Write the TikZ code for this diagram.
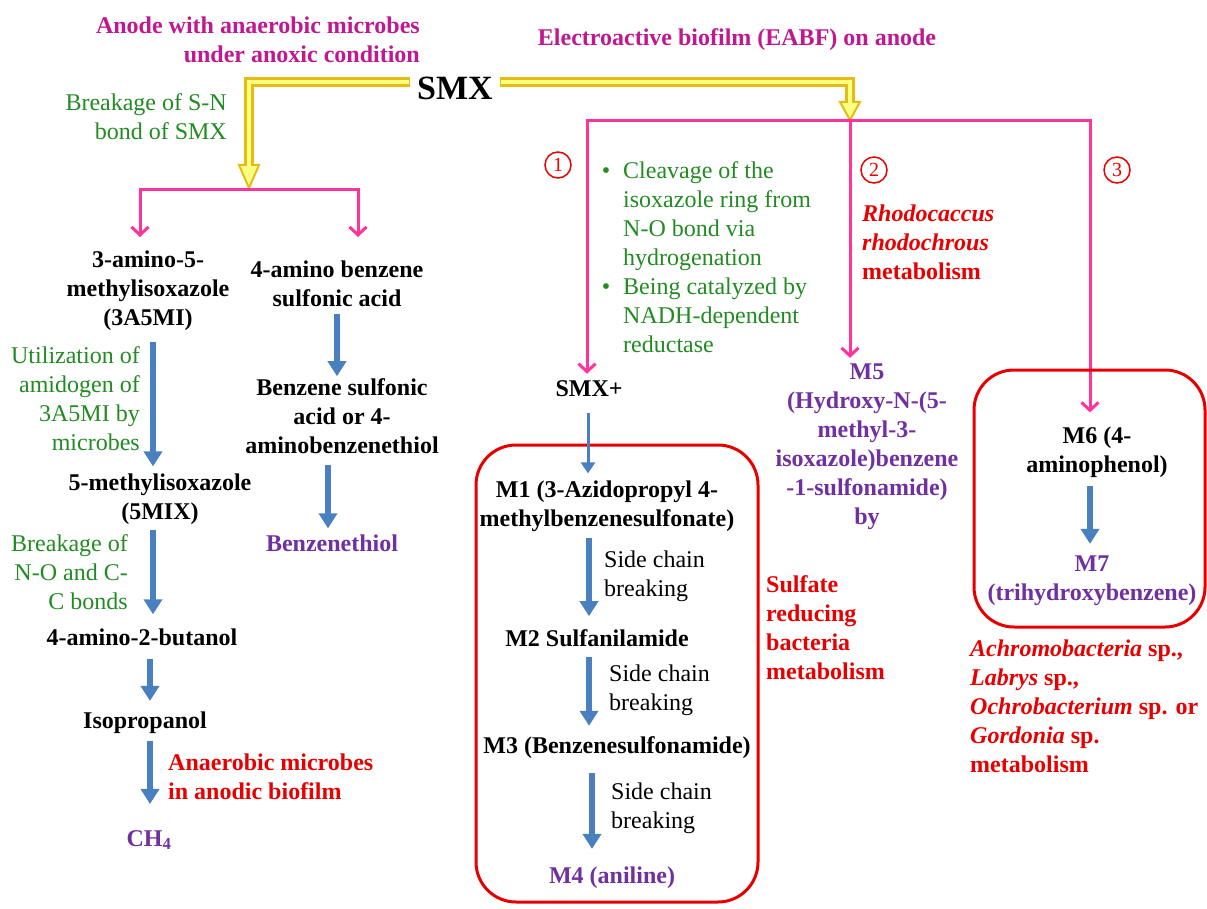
\documentclass[tikz,border=0pt]{standalone}
\usepackage{fontspec}
\setmainfont{Liberation Serif}
\usetikzlibrary{arrows.meta}
\definecolor{mag}{RGB}{192,24,144}
\definecolor{pk}{RGB}{255,51,153}
\definecolor{gold}{RGB}{228,188,20}
\definecolor{lyel}{RGB}{255,255,130}
\definecolor{grn}{RGB}{34,139,34}
\definecolor{rd}{RGB}{232,0,0}
\definecolor{pur}{RGB}{112,48,160}
\definecolor{blu}{RGB}{74,128,192}
\newcommand{\fsz}{\fontsize{24}{29}\selectfont}
\begin{document}
\begin{tikzpicture}[x=1pt,y=-1pt,
  every node/.style={inner sep=0pt, align=center, font=\fsz},
  bk/.style={font=\fsz\bfseries},
  gr/.style={text=grn, font=\fsz},
  rdb/.style={text=rd, font=\fsz\bfseries},
  pu/.style={text=pur, font=\fsz\bfseries},
  pka/.style={draw=pk, line width=3pt, -{Straight Barb[length=8pt,width=17pt,line width=3pt]}},
  pkl/.style={draw=pk, line width=3pt},
  ba/.style={draw=blu, line width=6pt, -{Triangle[length=15pt,width=18pt]}},
  bthin/.style={draw=blu, line width=3pt, -{Triangle[length=11pt,width=14pt]}},
  yout/.style={draw=gold, line width=10pt},
  yin/.style={draw=lyel, line width=4.5pt},
  yhead/.style={fill=lyel, draw=gold, line width=2pt, line join=miter},
  rbox/.style={draw=rd, line width=3pt, rounded corners=40pt},
  circnum/.style={circle, draw=rd, line width=1.5pt, text=rd, inner sep=0pt, font=\fontsize{20}{22}\selectfont, minimum size=26pt}
]
\fill[white] (0,0) rectangle (1207,909);
\useasboundingbox (0,0) rectangle (1207,909);

% titles
\node[text=mag, font=\fsz\bfseries, align=right, anchor=east] (titleL) at (420,40) {Anode with anaerobic microbes\\under anoxic condition};
\node[text=mag, font=\fsz\bfseries] (titleR) at (737,40) {Electroactive biofilm (EABF) on anode};
\node[font=\fontsize{34}{40}\selectfont\bfseries] (smx) at (455,88) {SMX};
\node[gr, align=right, anchor=east] (bsn) at (227,117) {Breakage of S-N\\bond of SMX};

% yellow arrows
\coordinate (yl0) at ([xshift=-7pt,yshift=6pt]smx.west);
\coordinate (ylh) at (249,165);
\coordinate (ylt) at (249,188);
\coordinate (yr0) at ([xshift=7pt,yshift=6pt]smx.east);
\coordinate (yrh) at (850,102);
\coordinate (yrt) at (850,120);
\draw[yout, line join=miter] (yl0) -| (ylh);
\draw[yout, line join=miter] (yr0) -| (yrh);
\filldraw[yhead] ([xshift=-10pt]ylh) -- ([xshift=10pt]ylh) -- (ylt) -- cycle;
\filldraw[yhead] ([xshift=-10pt]yrh) -- ([xshift=10pt]yrh) -- (yrt) -- cycle;
\draw[yin, line join=miter] ([xshift=-1pt]yl0) -| ([yshift=-3pt]ylh);
\draw[yin, line join=miter] ([xshift=1pt]yr0) -| ([yshift=-3pt]yrh);

% left branch
\coordinate (pL) at (140,190);
\coordinate (pR) at (358,190);
\node[bk] (a3) at (148,291) {3-amino-5-\\methylisoxazole\\(3A5MI)};
\node[bk] (a4) at (337,284) {4-amino benzene\\sulfonic acid};
\draw[pka, {Straight Barb[length=8pt,width=17pt,line width=3pt]}-{Straight Barb[length=8pt,width=17pt,line width=3pt]}]
  ([yshift=-47pt]pL) -- (pL) -- (pR) -- ([yshift=-47pt]pR);

\node[gr, align=right, anchor=east] (util) at (140,399) {Utilization of\\amidogen of\\3A5MI by\\microbes};
\node[bk] (a5) at (160,499) {5-methylisoxazole\\(5MIX)};
\node[gr, align=right, anchor=east] (bno) at (128,572) {Breakage of\\N-O and C-\\C bonds};
\node[bk] (a42b) at (142,637) {4-amino-2-butanol};
\node[bk] (iso) at (145,723) {Isopropanol};
\node[rdb, align=left, anchor=west] (anaer) at (168,777) {Anaerobic microbes\\in anodic biofilm};
\node[pu] (ch4) at (149,840) {CH\textsubscript{4}};

\draw[ba, shorten <=11pt, shorten >=7pt] ([xshift=5pt]a3.south) -- ([xshift=5pt]a3.south |- a5.north);
\draw[ba, shorten <=5pt, shorten >=14pt] ([xshift=-7pt]a5.south) -- ([xshift=-7pt]a5.south |- a42b.north);
\draw[ba, shorten <=13pt, shorten >=11pt] ([xshift=8pt]a42b.south) -- ([xshift=8pt]a42b.south |- iso.north);
\draw[ba, shorten <=7pt, shorten >=26pt] ([xshift=5pt]iso.south) -- ([xshift=5pt]iso.south |- ch4.north);

\node[bk] (bsa) at (342,416) {Benzene sulfonic\\acid or 4-\\aminobenzenethiol};
\node[pu] (bt) at (332,543) {Benzenethiol};
\draw[ba, shorten <=7pt, shorten >=2pt] (a4.south) -- (a4.south |- bsa.north);
\draw[ba, shorten <=11pt, shorten >=6pt] ([xshift=-14pt]bsa.south) -- ([xshift=-14pt]bsa.south |- bt.north);

% right branch
\coordinate (h1) at (587,121);
\coordinate (h2) at (850,121);
\coordinate (h3) at (1090,121);
\node[bk] (smxp) at (589,389) {SMX+};
\node[pu] (m5) at (867,447) {M5\\(Hydroxy-N-(5-\\methyl-3-\\isoxazole)benzene\\-1-sulfonamide)\\by};
\node[bk] (m6) at (1097,452) {M6 (4-\\aminophenol)};
\draw[pka, shorten >=7pt, line join=miter] (h2) -- (h1) -- (h1 |- smxp.north);
\draw[pka, shorten >=14pt, line join=miter] (h2) -- (h3) -- (h3 |- m6.north);
\draw[pka, shorten >=6pt] (h2) -- (h2 |- m5.north);

\node[circnum] (c1) at (558,165) {1};
\node[circnum] (c2) at (874,170) {2};
\node[circnum] (c3) at (1117,170) {3};

\node[gr, align=left, anchor=west] (bul) at (623,257) {\llap{\textbullet\hspace{13pt}}Cleavage of the\\isoxazole ring from\\N-O bond via\\hydrogenation\\\llap{\textbullet\hspace{13pt}}Being catalyzed by\\NADH-dependent\\reductase};
\node[rdb, align=left, anchor=west] (rho) at (862,242) {\textit{Rhodocaccus}\\\textit{rhodochrous}\\metabolism};

% box M1-M4
\draw[rbox] (476,445) rectangle (758,902);
\node[bk] (m1) at (607,506) {M1 (3-Azidopropyl 4-\\methylbenzenesulfonate)};
\node[bk] (m2) at (597,638) {M2 Sulfanilamide};
\node[bk] (m3) at (617,748) {M3 (Benzenesulfonamide)};
\node[pu] (m4) at (612,878) {M4 (aniline)};
\node[align=left, anchor=west] (sc1) at (604,576) {Side chain\\breaking};
\node[align=left, anchor=west] (sc2) at (609,690) {Side chain\\breaking};
\node[align=left, anchor=west] (sc3) at (611,808) {Side chain\\breaking};
\draw[bthin, shorten <=16pt, shorten >=7pt] ([xshift=-1pt]smxp.south) -- ([xshift=-1pt]smxp.south |- m1.north);
\draw[ba, shorten <=6pt, shorten >=13pt] ([xshift=-18pt]m1.south) -- ([xshift=-18pt]m1.south |- m2.north);
\draw[ba, shorten <=10pt, shorten >=11pt] ([xshift=-8pt]m2.south) -- ([xshift=-8pt]m2.south |- m3.north);
\draw[ba, shorten <=14pt, shorten >=18pt] ([xshift=-25pt]m3.south) -- ([xshift=-25pt]m3.south |- m4.north);
\node[rdb, align=left, anchor=west] (srb) at (766,628) {Sulfate\\reducing\\bacteria\\metabolism};

% box M6-M7
\draw[rbox] (974,370) rectangle (1205,627);
\node[pu] (m7) at (1092,581) {M7\\(trihydroxybenzene)};
\draw[ba, shorten <=8pt, shorten >=12pt] ([xshift=-7pt]m6.south) -- ([xshift=-7pt]m6.south |- m7.north);
\node[rdb, align=left, anchor=west] (achro) at (970,706) {\textit{Achromobacteria} sp.,\\\textit{Labrys} sp.,\\\textit{Ochrobacterium} sp. or\\\textit{Gordonia} sp.\\metabolism};
\end{tikzpicture}
\end{document}
